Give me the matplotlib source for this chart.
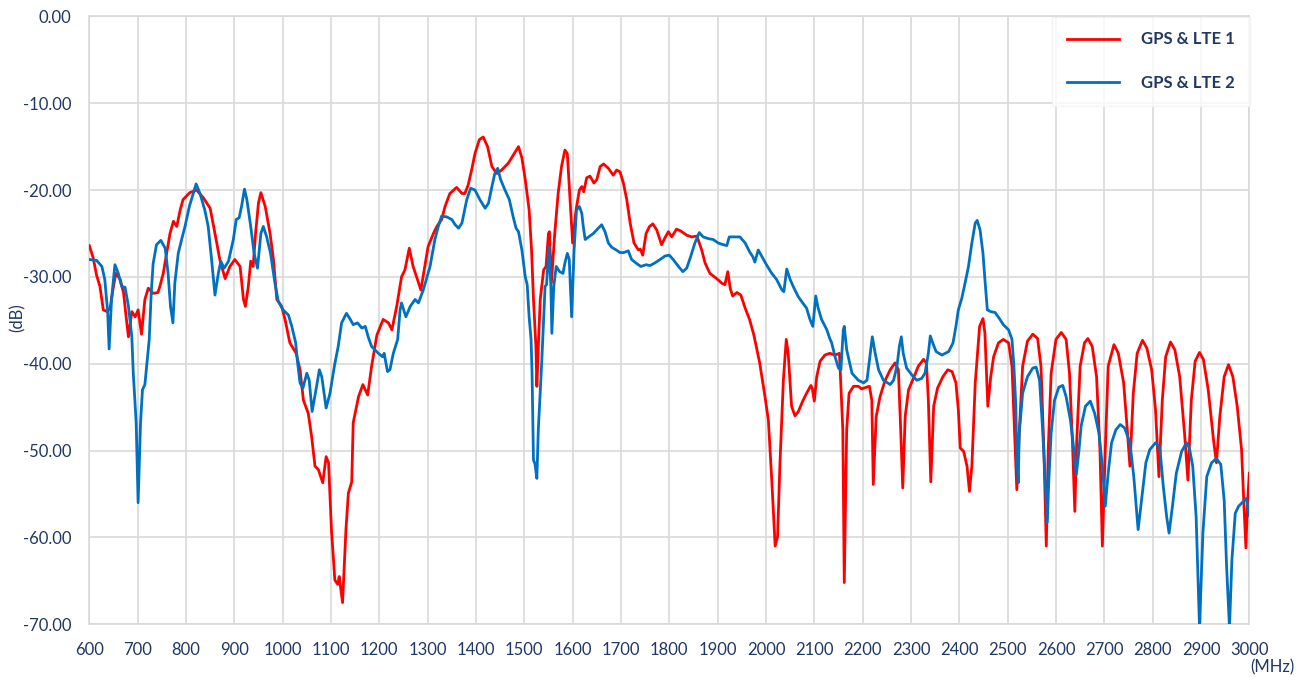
# return loss plot, GPS & LTE antenna ports

import matplotlib
matplotlib.use("Agg")
import matplotlib.pyplot as plt
from matplotlib.ticker import FormatStrFormatter, MultipleLocator

freq_lte1 = [600, 608, 615, 622, 629, 637, 643, 650, 655, 664, 671, 677, 681, 688, 695, 701, 708, 715,
             722, 732, 742, 746, 753, 760, 767, 774, 781, 788, 794, 808, 822, 836, 850, 860, 870, 881,
             891, 901, 912, 919, 923, 929, 934, 939, 944, 950, 955, 964, 974, 981, 988, 998, 1005, 1015,
             1028, 1036, 1043, 1053, 1060, 1067, 1074, 1083, 1090, 1095, 1101, 1108, 1114, 1117, 1124,
             1131, 1136, 1143, 1146, 1157, 1166, 1176, 1184, 1195, 1208, 1219, 1226, 1236, 1246, 1253,
             1262, 1270, 1286, 1301, 1312, 1319, 1329, 1336, 1346, 1360, 1371, 1377, 1384, 1391, 1398,
             1407, 1415, 1424, 1433, 1443, 1453, 1467, 1477, 1488, 1495, 1502, 1510, 1515, 1519, 1524,
             1526, 1529, 1533, 1540, 1545, 1550, 1552, 1556, 1563, 1570, 1577, 1584, 1589, 1594, 1600,
             1607, 1614, 1619, 1623, 1629, 1636, 1644, 1650, 1657, 1664, 1674, 1684, 1691, 1698, 1705,
             1712, 1719, 1727, 1736, 1740, 1745, 1752, 1759, 1766, 1774, 1784, 1791, 1798, 1805, 1815,
             1823, 1836, 1846, 1857, 1867, 1874, 1884, 1898, 1908, 1915, 1921, 1926, 1931, 1940, 1948,
             1957, 1966, 1975, 1987, 1998, 2005, 2012, 2019, 2024, 2029, 2036, 2042, 2046, 2053, 2060,
             2067, 2076, 2084, 2093, 2096, 2100, 2105, 2112, 2122, 2132, 2143, 2152, 2159, 2162, 2167,
             2172, 2181, 2191, 2198, 2208, 2214, 2219, 2222, 2228, 2236, 2246, 2257, 2267, 2274, 2279,
             2283, 2288, 2295, 2305, 2315, 2326, 2332, 2336, 2341, 2347, 2355, 2366, 2376, 2385, 2393,
             2398, 2402, 2409, 2416, 2421, 2426, 2433, 2442, 2449, 2453, 2459, 2465, 2471, 2481, 2491,
             2502, 2509, 2513, 2519, 2524, 2531, 2541, 2552, 2562, 2569, 2575, 2580, 2584, 2590, 2600,
             2611, 2621, 2628, 2634, 2639, 2643, 2650, 2659, 2666, 2675, 2684, 2691, 2696, 2702, 2708,
             2720, 2729, 2740, 2747, 2753, 2760, 2768, 2779, 2788, 2798, 2806, 2813, 2820, 2827, 2837,
             2846, 2856, 2866, 2873, 2880, 2888, 2897, 2905, 2915, 2926, 2932, 2939, 2948, 2957, 2966,
             2975, 2984, 2989, 2993, 2996, 3000]
db_lte1 = [-26.4, -27.8, -29.8, -31.1, -33.8, -34.0, -33.6, -31.1, -29.6, -30.3, -31.9, -35.0, -36.9,
           -34.0, -34.6, -33.8, -36.6, -32.6, -31.3, -31.9, -31.8, -31.1, -29.6, -27.3, -25.0, -23.6,
           -24.2, -22.3, -21.1, -20.3, -20.0, -20.9, -22.1, -25.0, -28.0, -30.2, -28.8, -28.0, -28.8,
           -32.6, -33.4, -31.1, -28.2, -28.8, -25.0, -21.5, -20.3, -21.9, -25.0, -28.0, -32.6, -33.4,
           -34.9, -37.6, -38.8, -40.7, -44.2, -45.7, -48.4, -51.8, -52.2, -53.7, -50.7, -51.4, -59.1,
           -64.9, -65.4, -64.5, -67.5, -59.1, -54.9, -53.6, -46.8, -43.8, -42.4, -43.6, -40.3, -36.7,
           -34.9, -35.3, -36.1, -33.4, -30.0, -29.2, -26.7, -28.8, -31.5, -26.5, -25.0, -24.2, -23.4,
           -21.9, -20.4, -19.7, -20.4, -20.4, -19.4, -17.7, -15.8, -14.2, -13.9, -15.0, -17.3, -18.1,
           -17.7, -16.9, -16.0, -15.0, -16.3, -18.8, -22.3, -26.9, -32.6, -38.0, -42.6, -38.0, -32.6,
           -29.2, -28.8, -25.0, -24.8, -30.7, -25.0, -20.4, -17.3, -15.4, -15.8, -20.4, -26.1, -22.3,
           -20.0, -19.6, -20.2, -18.6, -18.4, -19.2, -18.8, -17.3, -17.0, -17.5, -18.3, -17.7, -17.9,
           -19.2, -21.1, -23.8, -26.1, -26.9, -26.8, -27.5, -25.0, -24.2, -23.9, -24.6, -26.3, -25.5,
           -24.8, -25.4, -24.5, -24.7, -25.2, -25.4, -25.3, -26.9, -28.4, -29.6, -30.2, -30.7, -30.9,
           -29.4, -31.3, -32.2, -31.8, -32.1, -33.6, -34.9, -36.7, -39.9, -43.8, -46.5, -53.4, -61.0,
           -59.9, -51.4, -41.9, -37.2, -38.8, -44.9, -46.0, -45.5, -44.3, -43.4, -42.5, -42.9, -44.3,
           -41.5, -39.7, -39.0, -38.8, -39.0, -38.8, -47.6, -65.2, -47.6, -43.4, -42.6, -42.6, -42.9,
           -42.7, -42.6, -44.2, -53.9, -46.1, -43.8, -42.0, -40.7, -39.9, -40.7, -48.0, -54.3, -46.1,
           -43.0, -41.7, -40.3, -39.5, -39.9, -44.2, -53.6, -44.9, -42.8, -41.5, -40.7, -40.9, -42.2,
           -45.3, -49.7, -50.1, -51.8, -54.7, -51.8, -42.2, -35.7, -34.8, -36.5, -44.9, -41.5, -39.2,
           -37.6, -37.2, -37.6, -40.3, -46.1, -54.5, -48.0, -40.3, -37.4, -36.6, -37.1, -40.3, -49.9,
           -61.0, -49.9, -41.1, -37.2, -36.4, -37.2, -41.1, -48.8, -57.0, -48.8, -40.3, -37.6, -37.1,
           -38.0, -41.5, -49.9, -61.0, -49.9, -40.3, -37.8, -38.8, -42.2, -47.2, -51.8, -43.4, -38.8,
           -37.3, -38.2, -40.7, -45.3, -53.0, -44.2, -39.2, -37.5, -38.4, -41.5, -48.0, -53.4, -44.2,
           -39.7, -38.7, -39.5, -43.0, -48.8, -51.4, -46.1, -41.5, -40.1, -41.5, -44.9, -49.9, -56.4,
           -61.2, -56.4, -52.6]

freq_lte2 = [600, 615, 626, 632, 638, 641, 646, 653, 660, 667, 674, 681, 688, 691, 697, 701, 706, 710,
             715, 720, 724, 728, 732, 739, 748, 757, 763, 768, 773, 777, 784, 791, 798, 807, 821, 829,
             839, 846, 853, 860, 867, 872, 879, 888, 898, 904, 910, 915, 921, 926, 934, 941, 948, 955,
             960, 967, 975, 984, 991, 1001, 1012, 1019, 1024, 1027, 1031, 1036, 1042, 1050, 1055, 1061,
             1069, 1076, 1081, 1090, 1098, 1107, 1115, 1122, 1132, 1139, 1146, 1155, 1164, 1171, 1177,
             1184, 1198, 1207, 1210, 1217, 1222, 1229, 1238, 1243, 1246, 1255, 1264, 1274, 1281, 1291,
             1305, 1315, 1322, 1329, 1340, 1350, 1357, 1364, 1371, 1381, 1389, 1398, 1408, 1419, 1426,
             1433, 1439, 1445, 1451, 1460, 1469, 1477, 1483, 1488, 1495, 1502, 1506, 1510, 1514, 1516,
             1519, 1522, 1526, 1529, 1536, 1543, 1546, 1551, 1555, 1557, 1561, 1566, 1573, 1580, 1584,
             1589, 1593, 1598, 1603, 1608, 1614, 1619, 1622, 1626, 1633, 1643, 1653, 1660, 1667, 1674,
             1681, 1690, 1698, 1706, 1715, 1722, 1731, 1741, 1752, 1760, 1770, 1781, 1791, 1800, 1808,
             1819, 1828, 1836, 1844, 1853, 1862, 1870, 1881, 1891, 1901, 1912, 1919, 1924, 1932, 1946,
             1957, 1966, 1973, 1977, 1984, 1991, 2001, 2012, 2022, 2033, 2037, 2043, 2050, 2058, 2067,
             2076, 2084, 2091, 2097, 2103, 2108, 2115, 2126, 2132, 2136, 2143, 2150, 2155, 2160, 2162,
             2167, 2178, 2191, 2202, 2209, 2215, 2220, 2226, 2233, 2243, 2257, 2264, 2271, 2276, 2280,
             2284, 2291, 2302, 2312, 2322, 2329, 2336, 2340, 2345, 2352, 2364, 2378, 2387, 2393, 2398,
             2405, 2412, 2419, 2426, 2433, 2437, 2443, 2449, 2453, 2458, 2465, 2474, 2483, 2491, 2502,
             2509, 2513, 2517, 2519, 2522, 2524, 2531, 2541, 2552, 2559, 2566, 2572, 2578, 2582, 2585,
             2590, 2597, 2606, 2614, 2621, 2630, 2637, 2642, 2647, 2652, 2661, 2671, 2680, 2689, 2696,
             2702, 2708, 2715, 2724, 2733, 2742, 2753, 2761, 2770, 2777, 2786, 2794, 2806, 2815, 2822,
             2829, 2834, 2841, 2849, 2860, 2870, 2876, 2883, 2890, 2897, 2904, 2912, 2922, 2932, 2941,
             2948, 2953, 2959, 2964, 2971, 2978, 2985, 2994, 3000]
db_lte2 = [-28.0, -28.1, -28.8, -30.3, -34.0, -38.3, -32.6, -28.6, -29.6, -31.1, -31.2, -33.4, -36.9,
           -41.1, -46.8, -56.0, -46.8, -43.0, -42.4, -39.5, -37.2, -32.0, -28.5, -26.3, -25.8, -26.7,
           -29.6, -33.4, -35.3, -30.7, -27.3, -25.7, -24.2, -21.9, -19.3, -20.4, -22.3, -24.2, -28.0,
           -32.1, -29.6, -28.2, -29.0, -28.2, -25.7, -23.4, -23.2, -21.9, -19.9, -21.1, -24.2, -27.3,
           -29.0, -25.0, -24.2, -25.4, -27.3, -30.7, -32.8, -33.8, -34.4, -35.7, -36.9, -37.6, -39.9,
           -42.2, -42.8, -41.1, -41.9, -45.5, -43.0, -40.7, -41.5, -45.1, -43.4, -40.3, -38.0, -35.3,
           -34.2, -34.8, -35.5, -35.3, -35.9, -35.7, -36.9, -38.0, -38.8, -39.2, -38.8, -40.9, -40.7,
           -38.8, -37.2, -33.8, -33.0, -34.6, -33.4, -32.6, -33.0, -31.5, -28.8, -25.7, -24.2, -23.0,
           -23.1, -23.4, -24.0, -24.4, -23.8, -21.1, -19.8, -20.0, -21.1, -22.1, -21.5, -19.6, -18.1,
           -17.5, -18.8, -20.0, -21.1, -23.1, -24.4, -24.8, -26.9, -30.0, -30.9, -34.6, -37.2, -41.0,
           -51.1, -51.5, -53.2, -47.6, -39.9, -31.1, -30.9, -26.5, -31.1, -36.5, -31.1, -28.8, -29.4,
           -29.6, -28.4, -27.3, -28.0, -34.6, -26.9, -22.3, -21.9, -22.7, -24.2, -25.7, -25.4, -25.0,
           -24.4, -24.0, -24.8, -26.1, -26.6, -26.9, -27.2, -27.2, -27.0, -28.0, -28.4, -28.8, -28.6,
           -28.7, -28.4, -28.0, -27.6, -27.5, -28.0, -28.8, -29.4, -29.0, -27.7, -26.1, -24.9, -25.4,
           -25.6, -25.7, -26.1, -26.3, -26.4, -25.4, -25.4, -25.4, -26.1, -27.1, -27.7, -28.3, -26.9,
           -27.6, -28.6, -29.6, -30.3, -31.5, -31.7, -29.1, -30.3, -31.3, -32.3, -33.0, -33.6, -34.9,
           -35.7, -32.2, -33.6, -34.9, -36.1, -37.1, -37.6, -39.2, -40.5, -40.7, -36.1, -35.7, -38.4,
           -41.1, -41.9, -42.2, -41.9, -39.2, -36.9, -38.8, -40.7, -41.9, -42.4, -41.9, -40.3, -38.0,
           -36.9, -38.8, -40.5, -41.3, -41.9, -41.7, -41.1, -38.8, -36.8, -37.6, -38.6, -39.0, -38.6,
           -37.6, -35.7, -33.8, -32.5, -30.7, -28.8, -26.1, -23.8, -23.5, -24.6, -27.3, -30.3, -33.8,
           -34.0, -34.1, -34.8, -35.5, -36.1, -37.2, -40.3, -44.9, -51.1, -53.7, -48.0, -43.4, -41.5,
           -40.5, -40.4, -41.9, -47.2, -53.7, -58.3, -53.7, -48.0, -44.2, -42.7, -42.5, -43.8, -46.5,
           -49.9, -52.8, -50.3, -47.2, -44.9, -44.3, -45.7, -48.0, -51.8, -56.4, -52.6, -49.1, -47.6,
           -47.0, -47.4, -49.1, -53.0, -59.1, -55.7, -51.4, -49.9, -49.1, -49.7, -54.1, -57.6, -59.5,
           -56.4, -52.6, -50.1, -49.1, -49.7, -51.8, -57.6, -70.4, -59.5, -53.0, -51.4, -50.9, -51.6,
           -55.7, -63.3, -70.4, -62.6, -57.2, -56.4, -56.0, -55.5, -57.5]

navy = "#1F3864"
gridc = "#D9D9D9"

plt.rcParams["font.family"] = ["Lato", "DejaVu Sans"]
plt.rcParams["axes.unicode_minus"] = False

fig = plt.figure(figsize=(13.08, 6.77), dpi=100)
ax = fig.add_axes([89.3 / 1308, 1 - 624.3 / 677, 1160 / 1308, 608 / 677])

ax.plot(freq_lte1, db_lte1, color="#FF0000", lw=2.0, label="GPS & LTE 1", zorder=3)
ax.plot(freq_lte2, db_lte2, color="#0070C0", lw=2.0, label="GPS & LTE 2", zorder=3)

ax.set_xlim(600, 3000)
ax.set_ylim(-70, 0)
ax.xaxis.set_major_locator(MultipleLocator(100))
ax.yaxis.set_major_locator(MultipleLocator(10))
ax.yaxis.set_major_formatter(FormatStrFormatter("%.2f"))
ax.grid(True, color=gridc, lw=1.2, zorder=0)
ax.set_axisbelow(True)
for s in ax.spines.values():
    s.set_color(gridc)
    s.set_linewidth(1.2)
ax.tick_params(axis="both", length=0, labelsize=12, labelcolor=navy)
ax.tick_params(axis="x", pad=13)
ax.tick_params(axis="y", pad=13)

fig.text(18 / 1308, 1 - 318 / 677, "(dB)", rotation=90, ha="center", va="center",
         fontsize=12, color=navy)
fig.text(1272 / 1308, 1 - 667 / 677, "(MHz)", ha="center", va="center",
         fontsize=12, color=navy)

leg = ax.legend(loc="upper right", bbox_to_anchor=(1249.5 / 1308, 1 - 16.5 / 677),
                bbox_transform=fig.transFigure, frameon=True, fancybox=False,
                prop={"size": 12, "weight": "bold"}, labelcolor=navy,
                handlelength=3.1, handletextpad=1.3, labelspacing=1.65,
                borderpad=0.9, borderaxespad=0)
leg.get_frame().set_edgecolor("#F2F2F2")
leg.get_frame().set_linewidth(1.0)
leg.set_zorder(5)

fig.savefig("out.png", dpi=100)
